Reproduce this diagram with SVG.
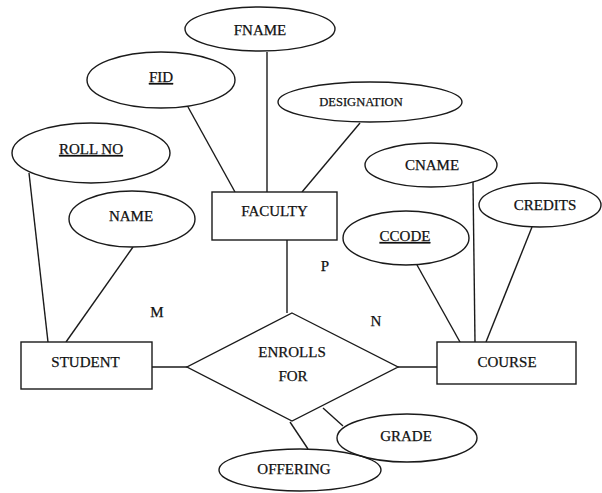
<svg xmlns="http://www.w3.org/2000/svg" width="602" height="493" viewBox="0 0 602 493">
<style>
.s{fill:#fff;stroke:#1a1a1a;stroke-width:1.4}
.o{fill:none;stroke:#1a1a1a;stroke-width:1.4}
.l{fill:none;stroke:#1a1a1a;stroke-width:1.4}
text{font-family:"Liberation Serif","Times New Roman",serif;font-size:15px;fill:#111;stroke:#111;stroke-width:0.25;text-anchor:middle}
.sm{font-size:12.5px}
.u{text-decoration:underline}
</style>
<rect width="602" height="493" fill="#fff"/>
<g id="connectors">
<line class="l" x1="267" y1="52" x2="267" y2="192"/>
<line class="l" x1="188" y1="107" x2="235" y2="192"/>
<line class="l" x1="360" y1="123" x2="302" y2="192"/>
<line class="l" x1="29" y1="173" x2="48" y2="342"/>
<line class="l" x1="133" y1="247" x2="66" y2="342"/>
<line class="l" x1="287" y1="240" x2="287" y2="313"/>
<line class="l" x1="152" y1="367" x2="187" y2="367"/>
<line class="l" x1="398" y1="367" x2="437" y2="367"/>
<line class="l" x1="473" y1="182" x2="475" y2="342"/>
<line class="l" x1="532" y1="227" x2="486" y2="342"/>
<line class="l" x1="417" y1="265" x2="460" y2="342"/>
<line class="l" x1="323" y1="408" x2="343" y2="426"/>
<line class="l" x1="290" y1="422" x2="308" y2="449"/>
</g>
<g id="fname"><ellipse class="s" cx="260" cy="29" rx="75" ry="22"/><text x="260" y="35">FNAME</text></g>
<g id="fid"><ellipse class="s" cx="161" cy="80" rx="74" ry="28"/><text class="u" x="161" y="82">FID</text></g>
<g id="designation"><ellipse class="s" cx="370" cy="102" rx="92" ry="20"/><text class="sm" x="361" y="106">DESIGNATION</text></g>
<g id="rollno"><ellipse class="s" cx="91" cy="153" rx="79" ry="30"/><text class="u" x="91" y="154">ROLL NO</text></g>
<g id="name"><ellipse class="s" cx="132" cy="219" rx="63" ry="28"/><text x="131" y="221">NAME</text></g>
<g id="faculty"><rect class="s" x="212" y="192" width="125" height="48"/><text x="274.5" y="216">FACULTY</text></g>
<g id="cname"><ellipse class="s" cx="431" cy="165" rx="66" ry="22"/><text x="432" y="170">CNAME</text></g>
<g id="credits"><ellipse class="s" cx="540" cy="205" rx="61" ry="22"/><text x="545" y="210">CREDITS</text></g>
<g id="ccode"><ellipse class="s" cx="406" cy="238" rx="63" ry="27"/><text class="u" x="405" y="241">CCODE</text></g>
<g id="student"><rect class="s" x="21" y="342" width="131" height="47"/><text x="85.5" y="367">STUDENT</text></g>
<g id="enrolls"><polygon class="s" points="292,313 398,367 292,421 187,367"/><text x="292" y="357">ENROLLS</text><text x="293" y="381">FOR</text></g>
<g id="course"><rect class="s" x="437" y="342" width="139" height="42"/><text x="507" y="367">COURSE</text></g>
<g id="grade"><ellipse class="o" cx="407" cy="438" rx="70" ry="24"/><text x="406" y="441">GRADE</text></g>
<g id="offering"><ellipse class="o" cx="300" cy="470" rx="81" ry="21"/><text x="294" y="474">OFFERING</text></g>
<g id="labels"><text x="157" y="317">M</text><text x="325" y="271">P</text><text x="376" y="326">N</text></g>
</svg>
